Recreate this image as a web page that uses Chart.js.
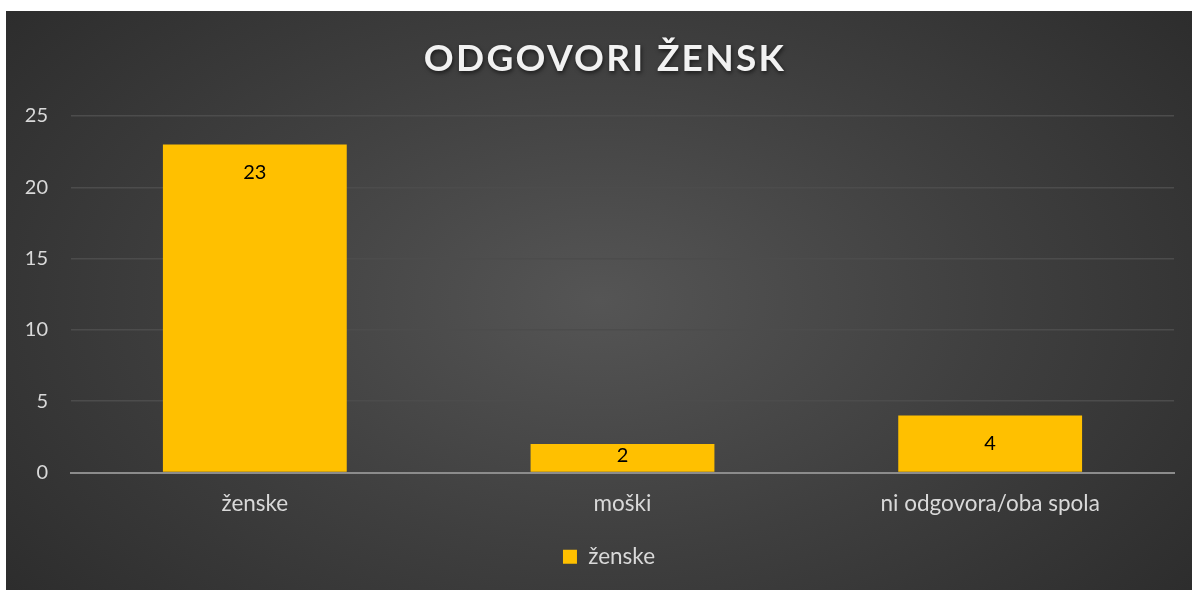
<!DOCTYPE html>
<html>
<head>
<meta charset="utf-8">
<script src="https://cdn.jsdelivr.net/npm/chart.js@4.4.1/dist/chart.umd.min.js"></script>
<style>
  html, body { margin: 0; padding: 0; background: #ffffff; width: 1192px; height: 590px; overflow: hidden; }
  #wrap {
    position: absolute; left: 6px; top: 11px; width: 1186px; height: 579px;
    background: radial-gradient(ellipse 75% 95% at 50% 50%, #555555 0%, #3f3f3f 45%, #262626 100%);
  }
  canvas { display: block; }
</style>
</head>
<body>
<div id="wrap"><canvas id="c" width="1186" height="579"></canvas></div>
<script>
const titleText = "ODGOVORI ŽENSK";
const categories = ["ženske", "moški", "ni odgovora/oba spola"];
const seriesName = "ženske";
const values = [23, 2, 4];
const yTicks = [0, 5, 10, 15, 20, 25];

const FONT = "Lato, 'Open Sans', sans-serif";

const titlePlugin = {
  id: 'customTitle',
  afterDraw(chart) {
    const ctx = chart.ctx;
    ctx.save();
    ctx.font = "bold 37px " + FONT;
    ctx.letterSpacing = "2.3px";
    ctx.textAlign = "center";
    ctx.textBaseline = "middle";
    ctx.shadowColor = "rgba(0,0,0,0.6)";
    ctx.shadowBlur = 4;
    ctx.shadowOffsetX = 1;
    ctx.shadowOffsetY = 2;
    ctx.fillStyle = "#f2f2f2";
    ctx.fillText(titleText, 599, 48);
    ctx.restore();
  }
};

const legendShift = {
  id: 'legendShift',
  afterLayout(chart) {
    if (chart.legend) {
      chart.legend.left += 19;
      chart.legend.right += 19;
    }
  }
};

const labelPlugin = {
  id: 'barLabels',
  afterDatasetsDraw(chart) {
    const ctx = chart.ctx;
    const meta = chart.getDatasetMeta(0);
    ctx.save();
    ctx.font = "20px " + FONT;
    ctx.fillStyle = "#000000";
    ctx.textAlign = "center";
    ctx.textBaseline = "middle";
    meta.data.forEach((bar, i) => {
      const h = bar.base - bar.y;
      let cy = bar.y + 28;
      if (h < 56) cy = (bar.y + bar.base) / 2 - 2;
      ctx.fillText(String(chart.data.datasets[0].data[i]), bar.x, cy);
    });
    ctx.restore();
  }
};

new Chart(document.getElementById('c'), {
  type: 'bar',
  data: {
    labels: categories,
    datasets: [{
      label: seriesName,
      data: values,
      backgroundColor: '#FFC000',
      borderWidth: 0,
      barPercentage: 0.5,
      categoryPercentage: 1.0
    }]
  },
  options: {
    responsive: false,
    animation: false,
    devicePixelRatio: 1,
    layout: { padding: { top: 105, right: 18, bottom: 12, left: 0 } },
    plugins: {
      title: { display: false },
      tooltip: { enabled: false },
      legend: {
        display: true,
        position: 'bottom',
        labels: {
          color: '#d9d9d9',
          font: { family: FONT, size: 22.5 },
          boxWidth: 14,
          boxHeight: 14,
          padding: 9
        }
      }
    },
    scales: {
      x: {
        grid: { display: false, drawTicks: false },
        border: { display: true, color: '#8c8c8c', width: 2 },
        ticks: { color: '#d9d9d9', font: { family: FONT, size: 22.5 }, padding: 18, maxRotation: 0 },
        afterFit(scale) { scale.height = 64; }
      },
      y: {
        min: 0,
        max: 25,
        afterBuildTicks(scale) { scale.ticks = yTicks.map(v => ({ value: v })); },
        grid: { color: '#4c4c4c', lineWidth: 1.5, drawTicks: false },
        border: { display: false },
        ticks: { color: '#d9d9d9', font: { family: FONT, size: 20 }, padding: 23 },
        afterFit(scale) { scale.width = 65; }
      }
    }
  },
  plugins: [titlePlugin, labelPlugin, legendShift]
});
</script>
</body>
</html>
